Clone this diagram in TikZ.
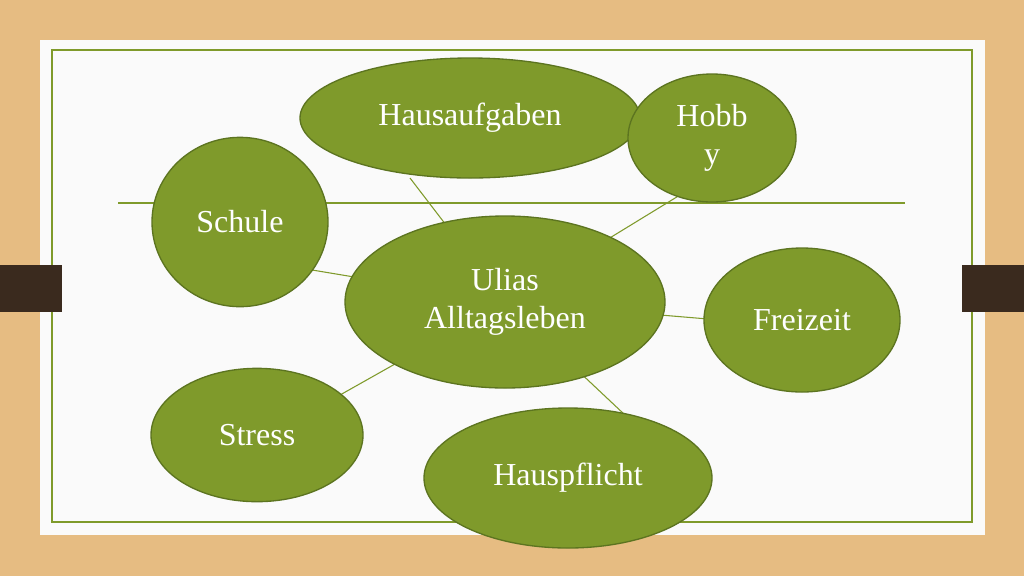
\documentclass[tikz,border=0pt]{standalone}
\usepackage{fontspec}
\setmainfont{Liberation Serif}
\usetikzlibrary{shapes.geometric}
\definecolor{wood}{HTML}{E6BC82}
\definecolor{leaf}{HTML}{7F9A2B}
\definecolor{leafdark}{HTML}{5C7420}
\definecolor{tab}{HTML}{3A2A1E}
\tikzset{
  bubble/.style={ellipse, fill=leaf, draw=leafdark, line width=1pt, text=white, inner sep=0pt, align=center, font=\fontsize{24}{28}\selectfont},
  link/.style={draw=leaf, line width=0.8pt}
}
\begin{document}
\begin{tikzpicture}[x=0.75pt,y=-0.75pt]
\useasboundingbox (0,0) rectangle (1024,576);
\fill[wood] (0,0) rectangle (1024,576);
\fill[white!96!gray] (40,40) rectangle (985,535);
\draw[leaf, line width=0.8pt] (52,50) rectangle (972,522);
\fill[tab] (0,265) rectangle (62,312);
\fill[tab] (962,265) rectangle (1024,312);
\draw[leaf, line width=0.8pt] (118,203) -- (905,203);
\coordinate (c) at (505,302);
\draw[link] (c) -- (410,178);
\draw[link] (c) -- (680,195);
\draw[link] (c) -- (300,268);
\draw[link] (c) -- (720,320);
\draw[link] (c) -- (340,395);
\draw[link] (c) -- (625,415);
\node[bubble, minimum width=255pt, minimum height=90pt] (hau) at (470,118) {Hausaufgaben};
\node[bubble, minimum width=126pt, minimum height=96pt] (hob) at (712,138) {Hobb\\y};
\node[bubble, minimum width=132pt, minimum height=127pt] (sch) at (240,222) {Schule};
\node[bubble, minimum width=240pt, minimum height=129pt] (ali) at (505,302) {Ulias\\Alltagsleben};
\node[bubble, minimum width=147pt, minimum height=108pt] (fre) at (802,320) {Freizeit};
\node[bubble, minimum width=159pt, minimum height=100pt] (str) at (257,435) {Stress};
\node[bubble, minimum width=216pt, minimum height=105pt] (hpf) at (568,478) {Hauspflicht};
\end{tikzpicture}
\end{document}
